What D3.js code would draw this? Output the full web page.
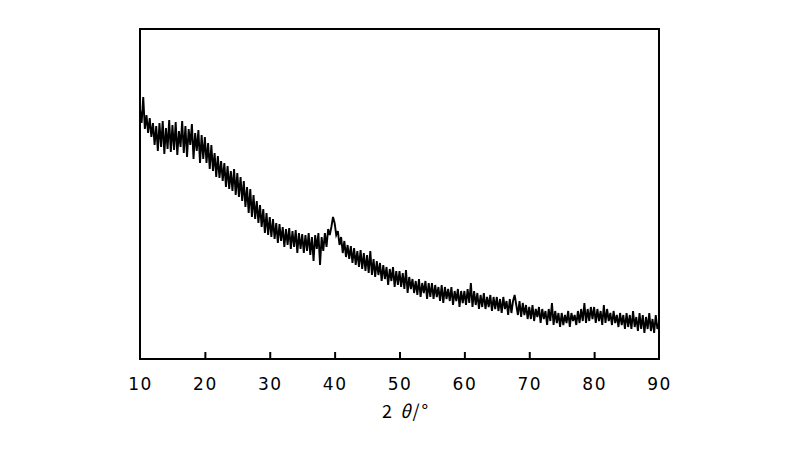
<!DOCTYPE html>
<html>
<head>
<meta charset="utf-8">
<script src="https://cdn.jsdelivr.net/npm/d3@7"></script>
<style>
  html, body { margin: 0; padding: 0; background: #fff; }
  svg { display: block; }
  .tick-label { font-family: "DejaVu Sans", sans-serif; font-size: 17px; letter-spacing: 1.5px; fill: #000; }
  .axis-title { font-family: "Noto Sans CJK JP", "DejaVu Sans", sans-serif; font-size: 18px; letter-spacing: 2px; fill: #000; }
</style>
</head>
<body>
<svg id="chart" width="800" height="450"></svg>
<script>
// ---- data ----
const twoThetaStart = 10;
const twoThetaStep = 0.25;
// intensity (a.u.), one value every 0.25° from 10° to 90°
const intensity = [
  250, 236, 262, 230, 244, 226, 241, 222, 236, 214, 233, 208, 236, 212, 238, 205, 231, 210, 239, 207,
  234, 209, 237, 204, 228, 212, 238, 206, 233, 202, 230, 214, 235, 200, 226, 208, 229, 196, 224, 200,
  222, 196, 216, 190, 214, 188, 206, 182, 203, 181, 198, 178, 196, 172, 193, 170, 188, 168, 190, 164,
  186, 162, 182, 158, 178, 152, 172, 146, 170, 142, 164, 140, 158, 136, 154, 132, 150, 126, 146, 124,
  142, 122, 140, 120, 136, 116, 135, 118, 132, 112, 130, 114, 131, 110, 128, 112, 129, 106, 126, 110,
  125, 106, 124, 108, 126, 104, 122, 98, 124, 110, 126, 94, 122, 108, 126, 112, 130, 124, 132, 142,
  136, 124, 128, 114, 122, 106, 118, 102, 114, 100, 113, 96, 111, 94, 108, 92, 109, 90, 106, 88,
  104, 86, 108, 84, 100, 82, 98, 84, 96, 78, 94, 80, 92, 74, 90, 78, 92, 72, 88, 74,
  88, 72, 86, 70, 89, 66, 82, 70, 80, 66, 78, 64, 80, 62, 76, 66, 78, 60, 76, 62,
  76, 60, 74, 62, 72, 58, 74, 56, 72, 60, 70, 58, 72, 54, 68, 58, 70, 52, 68, 56,
  68, 54, 70, 56, 76, 52, 68, 54, 66, 50, 64, 52, 66, 50, 62, 52, 64, 48, 62, 50,
  62, 48, 60, 46, 62, 50, 58, 44, 60, 46, 58, 64, 54, 44, 58, 42, 56, 44, 54, 40,
  52, 40, 54, 38, 50, 42, 52, 36, 50, 40, 48, 34, 50, 38, 56, 34, 48, 36, 46, 32,
  46, 34, 44, 36, 48, 32, 46, 38, 44, 34, 48, 36, 50, 38, 56, 36, 50, 38, 52, 40,
  52, 36, 50, 38, 48, 34, 54, 36, 50, 38, 46, 34, 48, 36, 44, 32, 46, 34, 44, 30,
  46, 32, 44, 30, 48, 32, 42, 28, 46, 30, 44, 26, 42, 30, 46, 28, 40, 26, 44, 30,
  36
];
const xTicks = [10, 20, 30, 40, 50, 60, 70, 80, 90];
const xDomain = [10, 90];
const yDomain = [0, 330];

// ---- layout ----
const margin = { left: 140, right: 141, top: 29, bottom: 91 };
const W = 800, H = 450;
const svg = d3.select("#chart");

const x = d3.scaleLinear().domain(xDomain).range([margin.left, W - margin.right]);
const y = d3.scaleLinear().domain(yDomain).range([H - margin.bottom, margin.top]);

const points = intensity.map((v, i) => ({ t: twoThetaStart + i * twoThetaStep, v }));

// data line
const line = d3.line().x(d => x(d.t)).y(d => y(d.v));
svg.append("path")
  .datum(points)
  .attr("d", line)
  .attr("fill", "none")
  .attr("stroke", "#000")
  .attr("stroke-width", 1.9)
  .attr("stroke-linejoin", "miter");

// inner ticks (pointing up from the bottom frame)
const axis = d3.axisBottom(x)
  .tickValues(xTicks)
  .tickSizeInner(-7)
  .tickSizeOuter(0)
  .tickPadding(19)
  .tickFormat(d3.format("d"));

const gAxis = svg.append("g")
  .attr("transform", `translate(0,${H - margin.bottom})`)
  .call(axis);
gAxis.select(".domain").remove();
gAxis.selectAll(".tick line")
  .attr("stroke", "#000")
  .attr("stroke-width", 2)
  .style("display", d => (d === xDomain[0] || d === xDomain[1]) ? "none" : null);
gAxis.selectAll(".tick text")
  .attr("class", "tick-label")
  .attr("font-family", null)
  .attr("font-size", null);

// frame
svg.append("rect")
  .attr("x", x(xDomain[0]))
  .attr("y", y(yDomain[1]))
  .attr("width", x(xDomain[1]) - x(xDomain[0]))
  .attr("height", y(yDomain[0]) - y(yDomain[1]))
  .attr("fill", "none")
  .attr("stroke", "#000")
  .attr("stroke-width", 2);

// axis title
const title = svg.append("text")
  .attr("class", "axis-title")
  .attr("x", 406)
  .attr("y", 418)
  .attr("text-anchor", "middle");
title.append("tspan").text("2 ");
title.append("tspan").attr("font-style", "italic").text("θ");
title.append("tspan").text("/°");
</script>
</body>
</html>
